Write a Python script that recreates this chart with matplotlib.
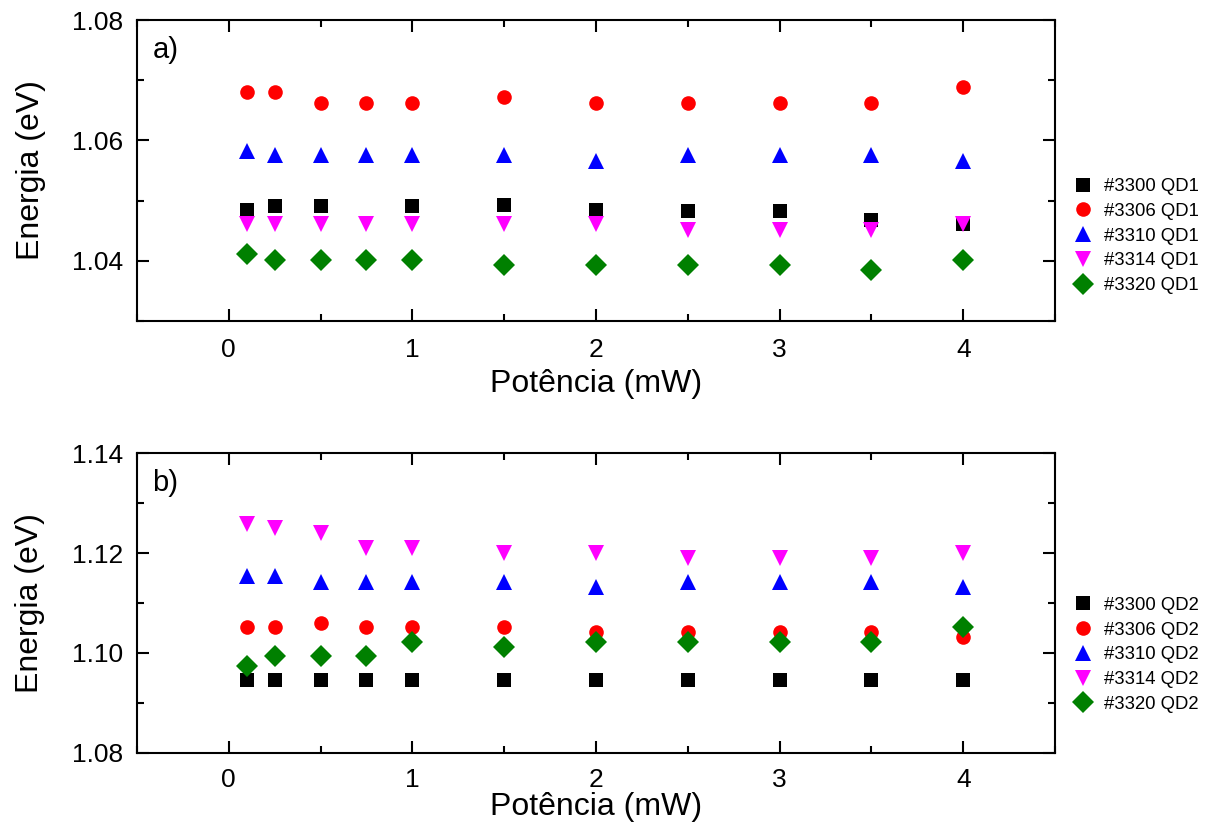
import matplotlib
matplotlib.use('Agg')
import matplotlib.pyplot as plt
import numpy as np
from matplotlib.ticker import MultipleLocator

# Potencia de excitacao (mW)
potencia = [0.1, 0.25, 0.5, 0.75, 1, 1.5, 2, 2.5, 3, 3.5, 4]

# Painel a) - QD1
qd1_3300 = [1.0484, 1.0491, 1.0491, np.nan, 1.0491, 1.0493, 1.0484, 1.0482, 1.0482, 1.0467, 1.0462]
qd1_3306 = [1.0681, 1.0681, 1.0662, 1.0662, 1.0662, 1.0672, 1.0662, 1.0662, 1.0662, 1.0662, 1.0689]
qd1_3310 = [1.0582, 1.0575, 1.0575, 1.0575, 1.0575, 1.0575, 1.0565, 1.0575, 1.0575, 1.0575, 1.0565]
qd1_3314 = [1.0461, 1.0461, 1.0461, 1.0461, 1.0461, 1.0461, 1.0461, 1.0452, 1.0452, 1.0452, 1.0461]
qd1_3320 = [1.0411, 1.0402, 1.0402, 1.0402, 1.0402, 1.0393, 1.0393, 1.0393, 1.0393, 1.0384, 1.0402]

# Painel b) - QD2
qd2_3300 = [1.0945, 1.0945, 1.0945, 1.0945, 1.0945, 1.0945, 1.0945, 1.0945, 1.0945, 1.0945, 1.0945]
qd2_3306 = [1.1052, 1.1052, 1.1061, 1.1052, 1.1052, 1.1052, 1.1042, 1.1042, 1.1042, 1.1042, 1.1032]
qd2_3310 = [1.1155, 1.1155, 1.1143, 1.1143, 1.1143, 1.1143, 1.1133, 1.1143, 1.1143, 1.1143, 1.1133]
qd2_3314 = [1.1259, 1.1251, 1.1240, 1.1210, 1.1210, 1.1200, 1.1200, 1.1190, 1.1190, 1.1190, 1.1200]
qd2_3320 = [1.0973, 1.0993, 1.0993, 1.0993, 1.1023, 1.1013, 1.1023, 1.1023, 1.1023, 1.1023, 1.1052]

amostras = ['#3300', '#3306', '#3310', '#3314', '#3320']
cores = ['black', '#ff0000', '#0000ff', '#ff00ff', '#008000']
marcadores = [('s', 9.6), ('o', 10.5), ('^', 12), ('v', 12), ('D', 11.5)]

plt.rcParams['font.family'] = ['Liberation Sans', 'DejaVu Sans']


def painel(ax, series, qd, letra, ylim, legenda_y, xpad, xlabelpad):
    for nome, ys, cor, (m, ms) in zip(amostras, series, cores, marcadores):
        ax.plot(potencia, ys, linestyle='none', marker=m, markersize=ms,
                color=cor, markeredgewidth=0, label=nome + ' ' + qd)
    ax.set_xlim(-0.5, 4.5)
    ax.set_ylim(*ylim)
    ax.xaxis.set_major_locator(MultipleLocator(1))
    ax.xaxis.set_minor_locator(MultipleLocator(0.5))
    ax.yaxis.set_major_locator(MultipleLocator(0.02))
    ax.yaxis.set_minor_locator(MultipleLocator(0.01))
    ax.yaxis.set_major_formatter(plt.FormatStrFormatter('%.2f'))
    ax.tick_params(which='both', direction='in', top=True, right=True, width=1.5)
    ax.tick_params(which='major', length=8.5, labelsize=19)
    ax.tick_params(which='minor', length=5)
    ax.tick_params(axis='x', which='major', pad=xpad)
    ax.tick_params(axis='y', which='major', pad=10)
    for s in ax.spines.values():
        s.set_linewidth(1.5)
    ax.set_xlabel('Potência (mW)', fontsize=23, labelpad=xlabelpad)
    ax.set_ylabel('Energia (eV)', fontsize=23, labelpad=19)
    ax.text(0.017, 0.9, letra, transform=ax.transAxes, fontsize=21,
            ha='left', va='center')
    ax.legend(loc='center left', bbox_to_anchor=(1.0207, legenda_y),
              frameon=False, fontsize=13.3, borderaxespad=0, borderpad=0,
              handlelength=1.0, handletextpad=0.6, labelspacing=0.42)


fig = plt.figure(figsize=(12.11, 8.27), dpi=100)
ax1 = fig.add_axes([0.1131, 0.6118, 0.7581, 0.3640])
ax2 = fig.add_axes([0.1131, 0.0895, 0.7581, 0.3627])

painel(ax1, [qd1_3300, qd1_3306, qd1_3310, qd1_3314, qd1_3320], 'QD1', 'a)',
       (1.03, 1.08), 0.282, 12, 5)
painel(ax2, [qd2_3300, qd2_3306, qd2_3310, qd2_3314, qd2_3320], 'QD2', 'b)',
       (1.08, 1.14), 0.327, 11, 0)

fig.savefig('out.png', dpi=100)
